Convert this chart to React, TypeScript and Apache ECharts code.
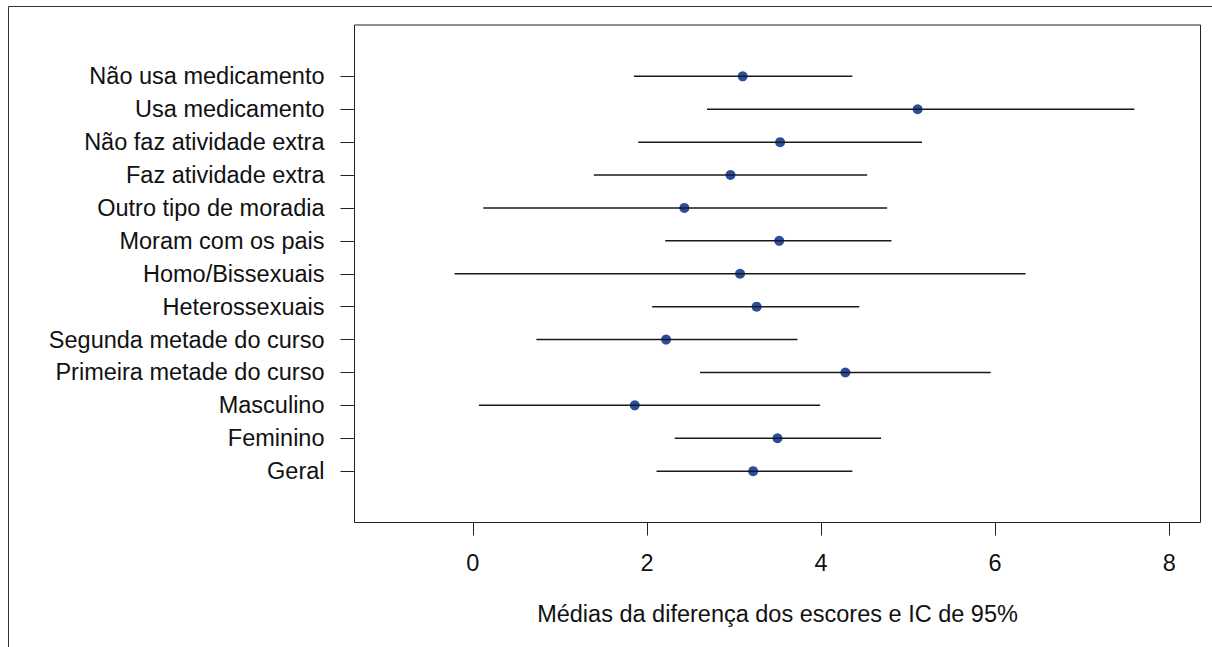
import React, { useEffect, useRef } from "react";
import * as echarts from "echarts";

// Categories from top to bottom as shown
const categories = [
  "Não usa medicamento",
  "Usa medicamento",
  "Não faz atividade extra",
  "Faz atividade extra",
  "Outro tipo de moradia",
  "Moram com os pais",
  "Homo/Bissexuais",
  "Heterossexuais",
  "Segunda metade do curso",
  "Primeira metade do curso",
  "Masculino",
  "Feminino",
  "Geral",
];
const means = [3.10, 5.11, 3.53, 2.96, 2.43, 3.52, 3.07, 3.26, 2.22, 4.28, 1.86, 3.50, 3.22];
const lowers = [1.85, 2.69, 1.90, 1.39, 0.12, 2.21, -0.21, 2.06, 0.73, 2.61, 0.07, 2.32, 2.11];
const uppers = [4.36, 7.60, 5.16, 4.53, 4.76, 4.81, 6.35, 4.44, 3.73, 5.95, 3.99, 4.69, 4.36];
const xTicks = [0, 2, 4, 6, 8];
const xTitle = "Médias da diferença dos escores e IC de 95%";

export default function App() {
  const ref = useRef<HTMLDivElement>(null);
  useEffect(() => {
    if (!ref.current) return;
    const chart = echarts.init(ref.current, null, { renderer: "svg" });
    const n = categories.length;
    const yPos = categories.map((_, i) => n - i);
    const font = "'Liberation Sans', Arial, sans-serif";
    chart.setOption({
      animation: false,
      backgroundColor: "#ffffff",
      graphic: [
        {
          type: "rect",
          shape: { x: 8.5, y: 6.5, width: 1300, height: 700 },
          style: { fill: "none", stroke: "#333", lineWidth: 1 },
          silent: true,
        },
      ],
      grid: {
        left: 354.5,
        top: 25,
        right: 11.5,
        bottom: 124.5,
        show: true,
        borderColor: "#222",
        borderWidth: 1,
        backgroundColor: "transparent",
      },
      xAxis: {
        type: "value",
        min: -1.36,
        max: 8.36,
        splitLine: { show: false },
        axisLine: { show: false, onZero: false },
        axisTick: {
          show: true,
          inside: false,
          length: 13,
          lineStyle: { color: "#222", width: 1 },
          customValues: xTicks,
        },
        axisLabel: {
          customValues: xTicks,
          fontSize: 23.5,
          fontFamily: font,
          color: "#111",
          margin: 28,
        },
        name: xTitle,
        nameLocation: "middle",
        nameGap: 79,
        nameTextStyle: { fontSize: 23.5, fontFamily: font, color: "#111" },
      },
      yAxis: {
        type: "value",
        min: -0.56,
        max: 14.56,
        splitLine: { show: false },
        axisLine: { show: false, onZero: false },
        axisTick: {
          show: true,
          inside: false,
          length: 14,
          lineStyle: { color: "#222", width: 1 },
          customValues: yPos,
        },
        axisLabel: {
          customValues: yPos,
          fontSize: 23.5,
          fontFamily: font,
          color: "#111",
          margin: 30,
          formatter: (v: number) => categories[n - Math.round(v)] ?? "",
        },
      },
      series: [
        {
          type: "scatter",
          data: categories.map((_, i) => [means[i], yPos[i]]),
          symbol: "circle",
          symbolSize: 10,
          itemStyle: { color: "#2A4DA0", opacity: 1 },
          z: 2,
        },
        {
          type: "custom",
          data: categories.map((_, i) => [lowers[i], uppers[i], yPos[i]]),
          encode: { x: [0, 1], y: 2 },
          renderItem: (params: any, api: any) => {
            const p1 = api.coord([api.value(0), api.value(2)]);
            const p2 = api.coord([api.value(1), api.value(2)]);
            return {
              type: "line",
              shape: { x1: p1[0], y1: p1[1], x2: p2[0], y2: p2[1] },
              style: { stroke: "#1a1a1a", lineWidth: 1.5 },
            };
          },
          z: 3,
        },
      ],
    });
    return () => chart.dispose();
  }, []);
  return (
    <div
      ref={ref}
      style={{ position: "absolute", left: 0, top: 0, width: 1212, height: 647 }}
    />
  );
}
